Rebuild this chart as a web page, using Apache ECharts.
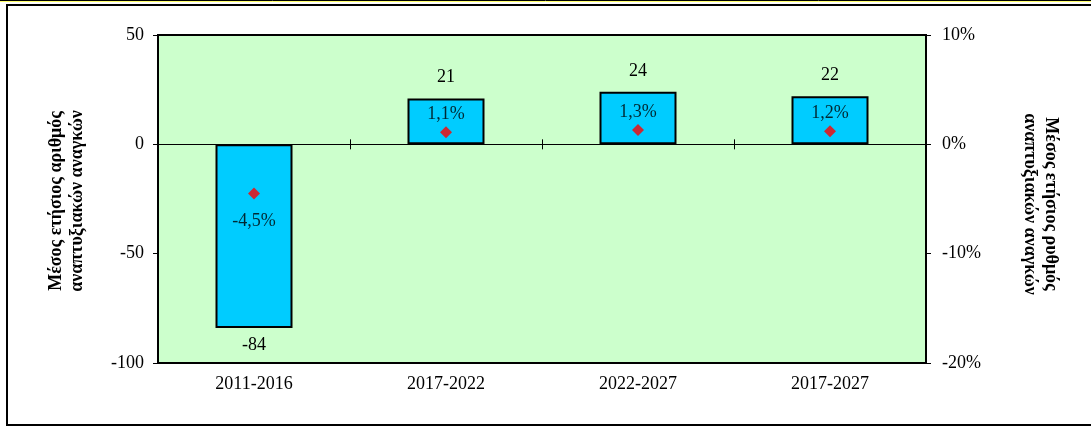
<!DOCTYPE html>
<html>
<head>
<meta charset="utf-8">
<script src="https://cdn.jsdelivr.net/npm/echarts@6/dist/echarts.min.js"></script>
<style>
html,body{margin:0;padding:0;background:#fff;}
#chart{width:1091px;height:427px;}
</style>
</head>
<body>
<div id="chart"></div>
<script>
const categories = ['2011-2016', '2017-2022', '2022-2027', '2017-2027'];
const needsValues = [-84, 21, 24, 22];
const growthRates = [-4.5, 1.1, 1.3, 1.2];
const leftTitle = 'Μέσος ετήσιος αριθμός\nαναπτυξιακών αναγκών';
const rightTitle = 'Μέσος ετήσιος ρυθμός\nαναπτυξιακών αναγκών';

const FONT = "'Liberation Serif', 'Times New Roman', serif";
const FS = 18;
const chart = echarts.init(document.getElementById('chart'));

const barData = needsValues.map(v => ({
  value: v,
  label: { position: v < 0 ? 'bottom' : 'top', distance: v < 0 ? 8 : 12 }
}));
const rateData = growthRates.map(v => ({
  value: v,
  label: { position: v < 0 ? 'bottom' : 'top', distance: v < 0 ? 13 : 3 }
}));

const catBase = {
  type: 'category',
  data: categories,
  boundaryGap: true
};

chart.setOption({
  animation: false,
  backgroundColor: '#fff',
  textStyle: { fontFamily: FONT },
  grid: {
    left: 158, right: 165, top: 35, bottom: 64,
    show: true, backgroundColor: '#ccffcc', borderColor: '#000', borderWidth: 2
  },
  xAxis: [
    Object.assign({}, catBase, {
      position: 'bottom',
      axisLine: { show: false, onZero: false },
      axisTick: { show: false },
      axisLabel: { color: '#000', fontSize: FS, fontFamily: FONT, margin: 12 }
    }),
    Object.assign({}, catBase, {
      position: 'bottom',
      axisLine: { show: true, onZero: true, onZeroAxisIndex: 0, lineStyle: { color: '#000', width: 1 } },
      axisTick: { show: true, length: 5, inside: false, lineStyle: { color: '#000', width: 1 } },
      axisLabel: { show: false }
    }),
    Object.assign({}, catBase, {
      position: 'bottom',
      axisLine: { show: false, onZero: true, onZeroAxisIndex: 0 },
      axisTick: { show: true, length: 5, inside: true, lineStyle: { color: '#000', width: 1 } },
      axisLabel: { show: false }
    })
  ],
  yAxis: [
    {
      type: 'value', min: -100, max: 50, interval: 50,
      axisLine: { show: true, lineStyle: { color: '#000', width: 2 } },
      axisTick: { show: true, length: 5, lineStyle: { color: '#000', width: 1 } },
      splitLine: { show: false },
      axisLabel: { color: '#000', fontSize: FS, fontFamily: FONT, margin: 14 }
    },
    {
      type: 'value', min: -20, max: 10, interval: 10, position: 'right',
      axisLine: { show: true, lineStyle: { color: '#000', width: 2 } },
      axisTick: { show: true, length: 5, lineStyle: { color: '#000', width: 1 } },
      splitLine: { show: false },
      axisLabel: { color: '#000', fontSize: FS, fontFamily: FONT, margin: 16, formatter: '{value}%' }
    }
  ],
  series: [
    {
      type: 'bar',
      xAxisIndex: 0, yAxisIndex: 0,
      data: barData,
      barWidth: 77,
      itemStyle: { color: '#00ccff', borderColor: '#000', borderWidth: 2 },
      label: { show: true, color: '#000', fontSize: FS, fontFamily: FONT }
    },
    {
      type: 'scatter',
      xAxisIndex: 0, yAxisIndex: 1,
      data: rateData,
      symbol: 'diamond',
      symbolSize: [12, 12],
      itemStyle: { color: '#ff0000' },
      label: {
        show: true, color: '#000', fontSize: FS, fontFamily: FONT,
        formatter: p => p.value.toFixed(1).replace('.', ',') + '%'
      },
      z: 5
    }
  ],
  graphic: [
    { type: 'line', shape: { x1: 0, y1: 0.5, x2: 1091, y2: 0.5 }, style: { stroke: '#000', lineWidth: 1 } },
    { type: 'line', shape: { x1: 0, y1: 1.5, x2: 1091, y2: 1.5 }, style: { stroke: '#ffff66', lineWidth: 1 } },
    { type: 'polyline', shape: { points: [[1091, 5], [7, 5], [7, 425], [1091, 425]] }, style: { stroke: '#000', lineWidth: 2, fill: null } },
    {
      type: 'text', x: 67, y: 201, rotation: Math.PI / 2,
      style: { text: leftTitle, font: "bold 18px " + FONT, fill: '#000', align: 'center', verticalAlign: 'middle', lineHeight: 21 }
    },
    {
      type: 'text', x: 1040, y: 204, rotation: -Math.PI / 2,
      style: { text: rightTitle, font: "bold 18px " + FONT, fill: '#000', align: 'center', verticalAlign: 'middle', lineHeight: 21 }
    }
  ]
});
</script>
</body>
</html>
